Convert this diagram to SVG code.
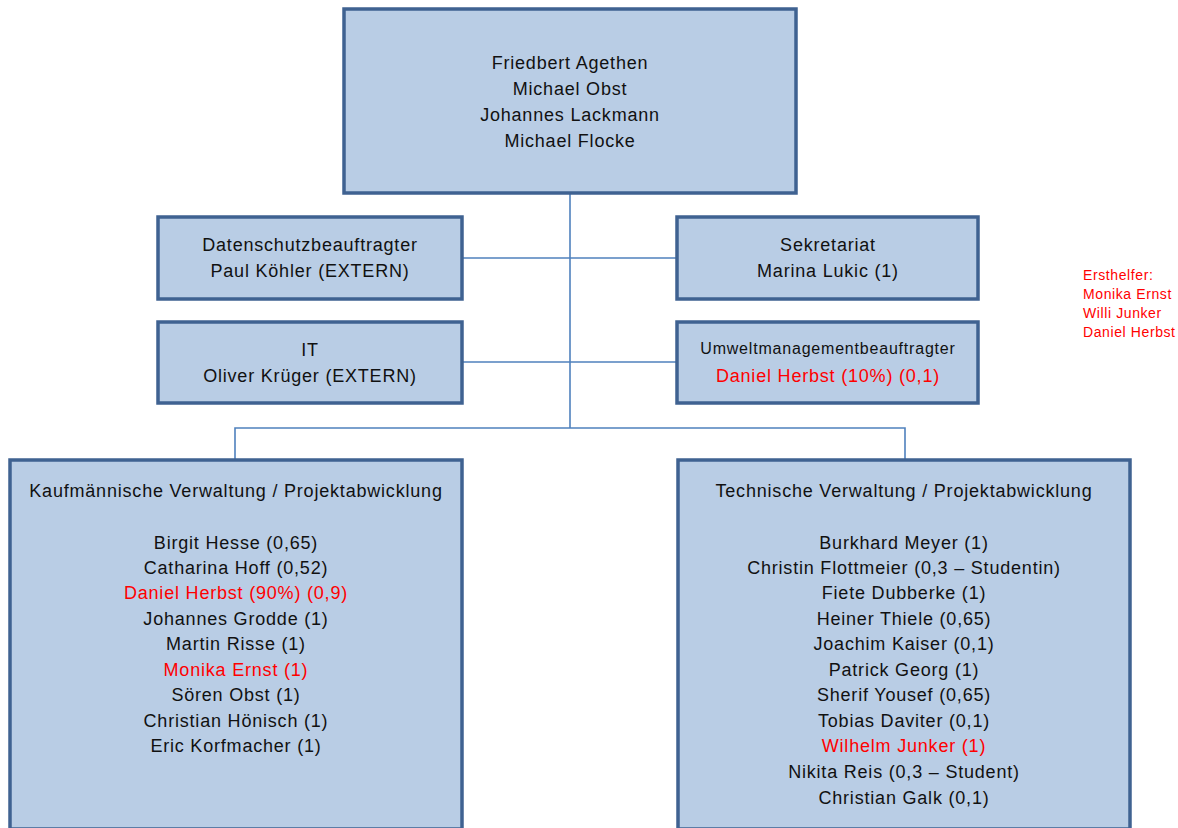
<svg xmlns="http://www.w3.org/2000/svg" width="1178" height="828" viewBox="0 0 1178 828">
  <style>
    .box { fill: #B9CDE5; stroke: #3F6291; stroke-width: 3.5; }
    .link { fill: none; stroke: #4F81BD; stroke-width: 1.6; }
    text { font-family: "Liberation Sans", Arial, sans-serif; font-size: 18px; letter-spacing: 0.8px; fill: #111; text-anchor: middle; }
    .small { font-size: 16px; }
    .red { fill: #FF0000; }
    .note { font-size: 14px; letter-spacing: 0.6px; text-anchor: start; fill: #FF0000; }
  </style>
  <rect width="1178" height="828" fill="#FFFFFF"/>

  <!-- connectors -->
  <g id="connectors">
    <path class="link" d="M570 193 V428"/>
    <path class="link" d="M462 258 H677"/>
    <path class="link" d="M462 362 H677"/>
    <path class="link" d="M235 459 V428 H905 V459"/>
  </g>

  <!-- management -->
  <g id="management">
    <rect class="box" x="344" y="9" width="452" height="184"/>
    <text x="570" y="69">Friedbert Agethen</text>
    <text x="570" y="95">Michael Obst</text>
    <text x="570" y="121">Johannes Lackmann</text>
    <text x="570" y="147">Michael Flocke</text>
  </g>

  <g id="datenschutz">
    <rect class="box" x="158" y="217" width="304" height="82"/>
    <text x="310" y="251">Datenschutzbeauftragter</text>
    <text x="310" y="277">Paul Köhler (EXTERN)</text>
  </g>

  <g id="it">
    <rect class="box" x="158" y="322" width="304" height="81"/>
    <text x="310" y="356">IT</text>
    <text x="310" y="382">Oliver Krüger (EXTERN)</text>
  </g>

  <g id="sekretariat">
    <rect class="box" x="677" y="217" width="301" height="82"/>
    <text x="828" y="251">Sekretariat</text>
    <text x="828" y="277">Marina Lukic (1)</text>
  </g>

  <g id="umwelt">
    <rect class="box" x="677" y="322" width="301" height="81"/>
    <text x="828" y="354" class="small">Umweltmanagementbeauftragter</text>
    <text x="828" y="382" class="red">Daniel Herbst (10%) (0,1)</text>
  </g>

  <g id="kaufmaennisch">
    <rect class="box" x="10" y="460" width="452" height="369"/>
    <text x="236" y="497">Kaufmännische Verwaltung / Projektabwicklung</text>
    <text x="236" y="549">Birgit Hesse (0,65)</text>
    <text x="236" y="574">Catharina Hoff (0,52)</text>
    <text x="236" y="599" class="red">Daniel Herbst (90%) (0,9)</text>
    <text x="236" y="625">Johannes Grodde (1)</text>
    <text x="236" y="650">Martin Risse (1)</text>
    <text x="236" y="676" class="red">Monika Ernst (1)</text>
    <text x="236" y="701">Sören Obst (1)</text>
    <text x="236" y="727">Christian Hönisch (1)</text>
    <text x="236" y="752">Eric Korfmacher (1)</text>
  </g>

  <g id="technisch">
    <rect class="box" x="678" y="460" width="452" height="369"/>
    <text x="904" y="497">Technische Verwaltung / Projektabwicklung</text>
    <text x="904" y="549">Burkhard Meyer (1)</text>
    <text x="904" y="574">Christin Flottmeier (0,3 – Studentin)</text>
    <text x="904" y="599">Fiete Dubberke (1)</text>
    <text x="904" y="625">Heiner Thiele (0,65)</text>
    <text x="904" y="650">Joachim Kaiser (0,1)</text>
    <text x="904" y="676">Patrick Georg (1)</text>
    <text x="904" y="701">Sherif Yousef (0,65)</text>
    <text x="904" y="727">Tobias Daviter (0,1)</text>
    <text x="904" y="752" class="red">Wilhelm Junker (1)</text>
    <text x="904" y="778">Nikita Reis (0,3 – Student)</text>
    <text x="904" y="804">Christian Galk (0,1)</text>
  </g>

  <g id="ersthelfer">
    <text class="note" x="1083" y="280">Ersthelfer:</text>
    <text class="note" x="1083" y="299">Monika Ernst</text>
    <text class="note" x="1083" y="318">Willi Junker</text>
    <text class="note" x="1083" y="337">Daniel Herbst</text>
  </g>
</svg>
